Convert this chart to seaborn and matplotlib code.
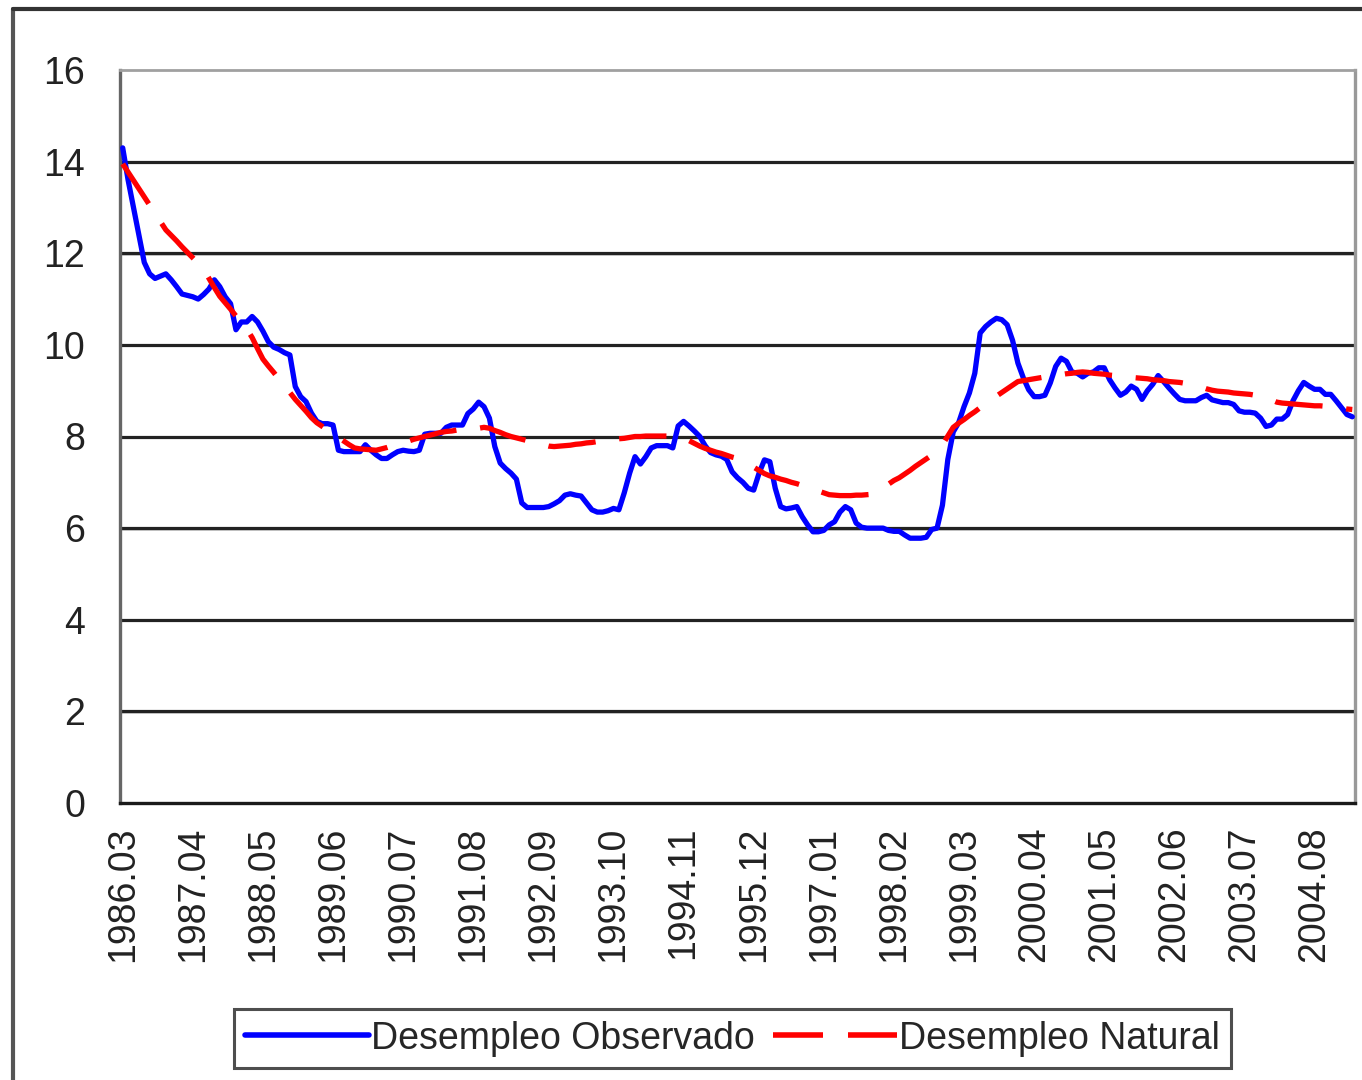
import pandas as pd
import seaborn as sns
import matplotlib.pyplot as plt
from matplotlib.lines import Line2D

# desempleo observado, mensual desde 1986.03
observado = [14.3, 13.6, 13.0, 12.4, 11.8, 11.55, 11.45, 11.5, 11.55, 11.42,
             11.27, 11.11, 11.08, 11.05, 11.0, 11.1, 11.22, 11.42, 11.27, 11.05,
             10.9, 10.33, 10.5, 10.5, 10.62, 10.5, 10.3, 10.07, 9.95, 9.9,
             9.83, 9.78, 9.09, 8.87, 8.76, 8.51, 8.33, 8.28, 8.28, 8.25,
             7.7, 7.67, 7.67, 7.67, 7.67, 7.82, 7.7, 7.6, 7.52, 7.52,
             7.6, 7.67, 7.7, 7.68, 7.67, 7.7, 8.05, 8.07, 8.07, 8.07,
             8.2, 8.25, 8.25, 8.25, 8.5, 8.6, 8.75, 8.65, 8.4, 7.78,
             7.42, 7.3, 7.2, 7.07, 6.55, 6.45, 6.45, 6.45, 6.45, 6.47,
             6.53, 6.6, 6.72, 6.75, 6.72, 6.7, 6.55, 6.4, 6.35, 6.35,
             6.38, 6.43, 6.4, 6.77, 7.2, 7.56, 7.4, 7.56, 7.75, 7.8,
             7.8, 7.8, 7.75, 8.23, 8.33, 8.23, 8.12, 8.0, 7.8, 7.65,
             7.6, 7.57, 7.5, 7.23, 7.1, 7.0, 6.87, 6.83, 7.2, 7.49,
             7.45, 6.87, 6.47, 6.42, 6.44, 6.47, 6.25, 6.07, 5.92, 5.92,
             5.95, 6.07, 6.14, 6.35, 6.47, 6.4, 6.11, 6.02, 6.0, 6.0,
             6.0, 6.0, 5.95, 5.93, 5.93, 5.85, 5.78, 5.78, 5.78, 5.8,
             5.97, 6.0, 6.5, 7.5, 8.1, 8.3, 8.65, 8.95, 9.38, 10.26,
             10.4, 10.5, 10.58, 10.55, 10.44, 10.1, 9.6, 9.28, 9.02, 8.87,
             8.87, 8.9, 9.17, 9.53, 9.71, 9.64, 9.41, 9.38, 9.3, 9.38,
             9.41, 9.5, 9.5, 9.24, 9.06, 8.9, 8.97, 9.1, 9.03, 8.81,
             9.0, 9.14, 9.33, 9.2, 9.06, 8.93, 8.81, 8.78, 8.78, 8.78,
             8.85, 8.9, 8.8, 8.77, 8.74, 8.74, 8.7, 8.56, 8.53, 8.53,
             8.51, 8.4, 8.22, 8.25, 8.38, 8.38, 8.48, 8.78, 9.0, 9.18,
             9.1, 9.03, 9.03, 8.92, 8.92, 8.78, 8.63, 8.48, 8.43]

# desempleo natural (tendencia)
natural = [13.95, 13.77, 13.59, 13.41, 13.23, 13.05, 12.87, 12.69, 12.51, 12.39,
           12.27, 12.14, 12.02, 11.9, 11.78, 11.65, 11.45, 11.25, 11.06, 10.92,
           10.78, 10.63, 10.49, 10.35, 10.16, 9.92, 9.69, 9.54, 9.4, 9.25,
           9.1, 8.96, 8.81, 8.68, 8.55, 8.41, 8.3, 8.22, 8.14, 8.06,
           7.98, 7.9, 7.82, 7.75, 7.73, 7.72, 7.71, 7.7, 7.73, 7.76,
           7.8, 7.83, 7.87, 7.9, 7.94, 7.97, 8.0, 8.03, 8.06, 8.09,
           8.11, 8.12, 8.14, 8.15, 8.16, 8.17, 8.18, 8.2, 8.18, 8.13,
           8.09, 8.04, 8.0, 7.97, 7.94, 7.91, 7.88, 7.85, 7.82, 7.79,
           7.78, 7.79, 7.8, 7.81, 7.83, 7.84, 7.86, 7.87, 7.89, 7.9,
           7.92, 7.93, 7.95, 7.96, 7.98, 8.0, 8.0, 8.01, 8.01, 8.01,
           8.01, 8.01, 8.0, 8.0, 7.97, 7.91, 7.85, 7.79, 7.74, 7.7,
           7.66, 7.63, 7.59, 7.55, 7.52, 7.46, 7.4, 7.33, 7.26, 7.19,
           7.14, 7.11, 7.07, 7.04, 7.0, 6.97, 6.93, 6.9, 6.86, 6.81,
           6.77, 6.73, 6.72, 6.71, 6.71, 6.71, 6.72, 6.72, 6.73, 6.74,
           6.8, 6.88, 6.96, 7.04, 7.1, 7.18, 7.26, 7.35, 7.43, 7.51,
           7.59, 7.67, 7.82, 8.01, 8.2, 8.29, 8.37, 8.46, 8.54, 8.63,
           8.71, 8.8, 8.88, 8.96, 9.04, 9.12, 9.2, 9.22, 9.24, 9.26,
           9.28, 9.3, 9.32, 9.34, 9.35, 9.37, 9.38, 9.4, 9.41, 9.4,
           9.38, 9.37, 9.36, 9.34, 9.33, 9.32, 9.3, 9.29, 9.28, 9.27,
           9.26, 9.24, 9.23, 9.22, 9.2, 9.19, 9.18, 9.16, 9.15, 9.12,
           9.08, 9.04, 9.01, 8.99, 8.98, 8.97, 8.95, 8.94, 8.93, 8.92,
           8.9, 8.89, 8.85, 8.8, 8.75, 8.73, 8.72, 8.71, 8.7, 8.69,
           8.68, 8.67, 8.67, 8.66, 8.64, 8.63, 8.62, 8.6, 8.59]

meses = pd.period_range('1986-03', periods=len(observado), freq='M')
etiquetas = [p.strftime('%Y.%m') for p in meses]
paso_etiqueta = 13

n = len(observado)
df = pd.concat([
    pd.DataFrame({'mes': range(n), 'valor': observado, 'serie': 'Desempleo Observado'}),
    pd.DataFrame({'mes': range(n), 'valor': natural, 'serie': 'Desempleo Natural'}),
])

sns.set_style('white')
plt.rcParams['font.family'] = ['Liberation Sans', 'DejaVu Sans']

fig = plt.figure(figsize=(13.62, 10.8), dpi=100)
ax = fig.add_axes([120 / 1362, 1 - 803 / 1080, 1235 / 1362, 733 / 1080])

for y in range(2, 16, 2):
    ax.axhline(y - 0.035, color='#c8c8c8', lw=1.2, zorder=1)
    ax.axhline(y, color='#222222', lw=2.3, zorder=1)

sns.lineplot(data=df, x='mes', y='valor', hue='serie', style='serie',
             palette={'Desempleo Observado': '#0000ff', 'Desempleo Natural': '#ff0000'},
             dashes={'Desempleo Observado': '', 'Desempleo Natural': (9, 4.5)},
             linewidth=3.8, ax=ax, legend=True, zorder=3)
handles, labels = ax.get_legend_handles_labels()
ax.get_legend().remove()

ax.set_xlim(-0.5, n - 0.5)
ax.set_ylim(0, 16)
ax.set_yticks(range(0, 17, 2))
ax.set_yticklabels([str(v) for v in range(0, 17, 2)], fontsize=27, color='#222222')
ax.set_xticks(range(0, n, paso_etiqueta))
ax.set_xticklabels(etiquetas[::paso_etiqueta], rotation=90, fontsize=27, color='#222222')
ax.set_xticks([i - 0.5 for i in range(n + 1)], minor=True)
ax.tick_params(axis='x', which='major', length=0, pad=17)
ax.tick_params(axis='x', which='minor', length=9, width=1.8, color='#333333', direction='out')
ax.tick_params(axis='y', which='major', length=12, width=2, color='#333333', pad=13, direction='out')
ax.set_xlabel('')
ax.set_ylabel('')

ax.spines['left'].set_color('#666666')
ax.spines['left'].set_linewidth(2.4)
ax.spines['bottom'].set_color('#1a1a1a')
ax.spines['bottom'].set_linewidth(2.4)
ax.spines['top'].set_color('#a0a0a0')
ax.spines['top'].set_linewidth(2)
ax.spines['right'].set_color('#999999')
ax.spines['right'].set_linewidth(2.4)

# marco exterior del grafico
fig.add_artist(Line2D([13 / 1362, 13 / 1362], [0, 1 - 9 / 1080], color='#555555', lw=3,
                      transform=fig.transFigure))
fig.add_artist(Line2D([13 / 1362, 1], [1 - 9 / 1080, 1 - 9 / 1080], color='#333333', lw=3,
                      transform=fig.transFigure))

leg = fig.legend(handles, labels, loc='center', bbox_to_anchor=(0.5378, 0.0384), ncol=2,
                 fontsize=27, handlelength=3.3, handletextpad=0.05, columnspacing=0.5,
                 frameon=True, fancybox=False, edgecolor='#222222', borderpad=0.3)
leg.get_frame().set_linewidth(2.2)
for h in leg.get_lines():
    h.set_linewidth(4)

fig.savefig('out.png', dpi=100, facecolor='white')
